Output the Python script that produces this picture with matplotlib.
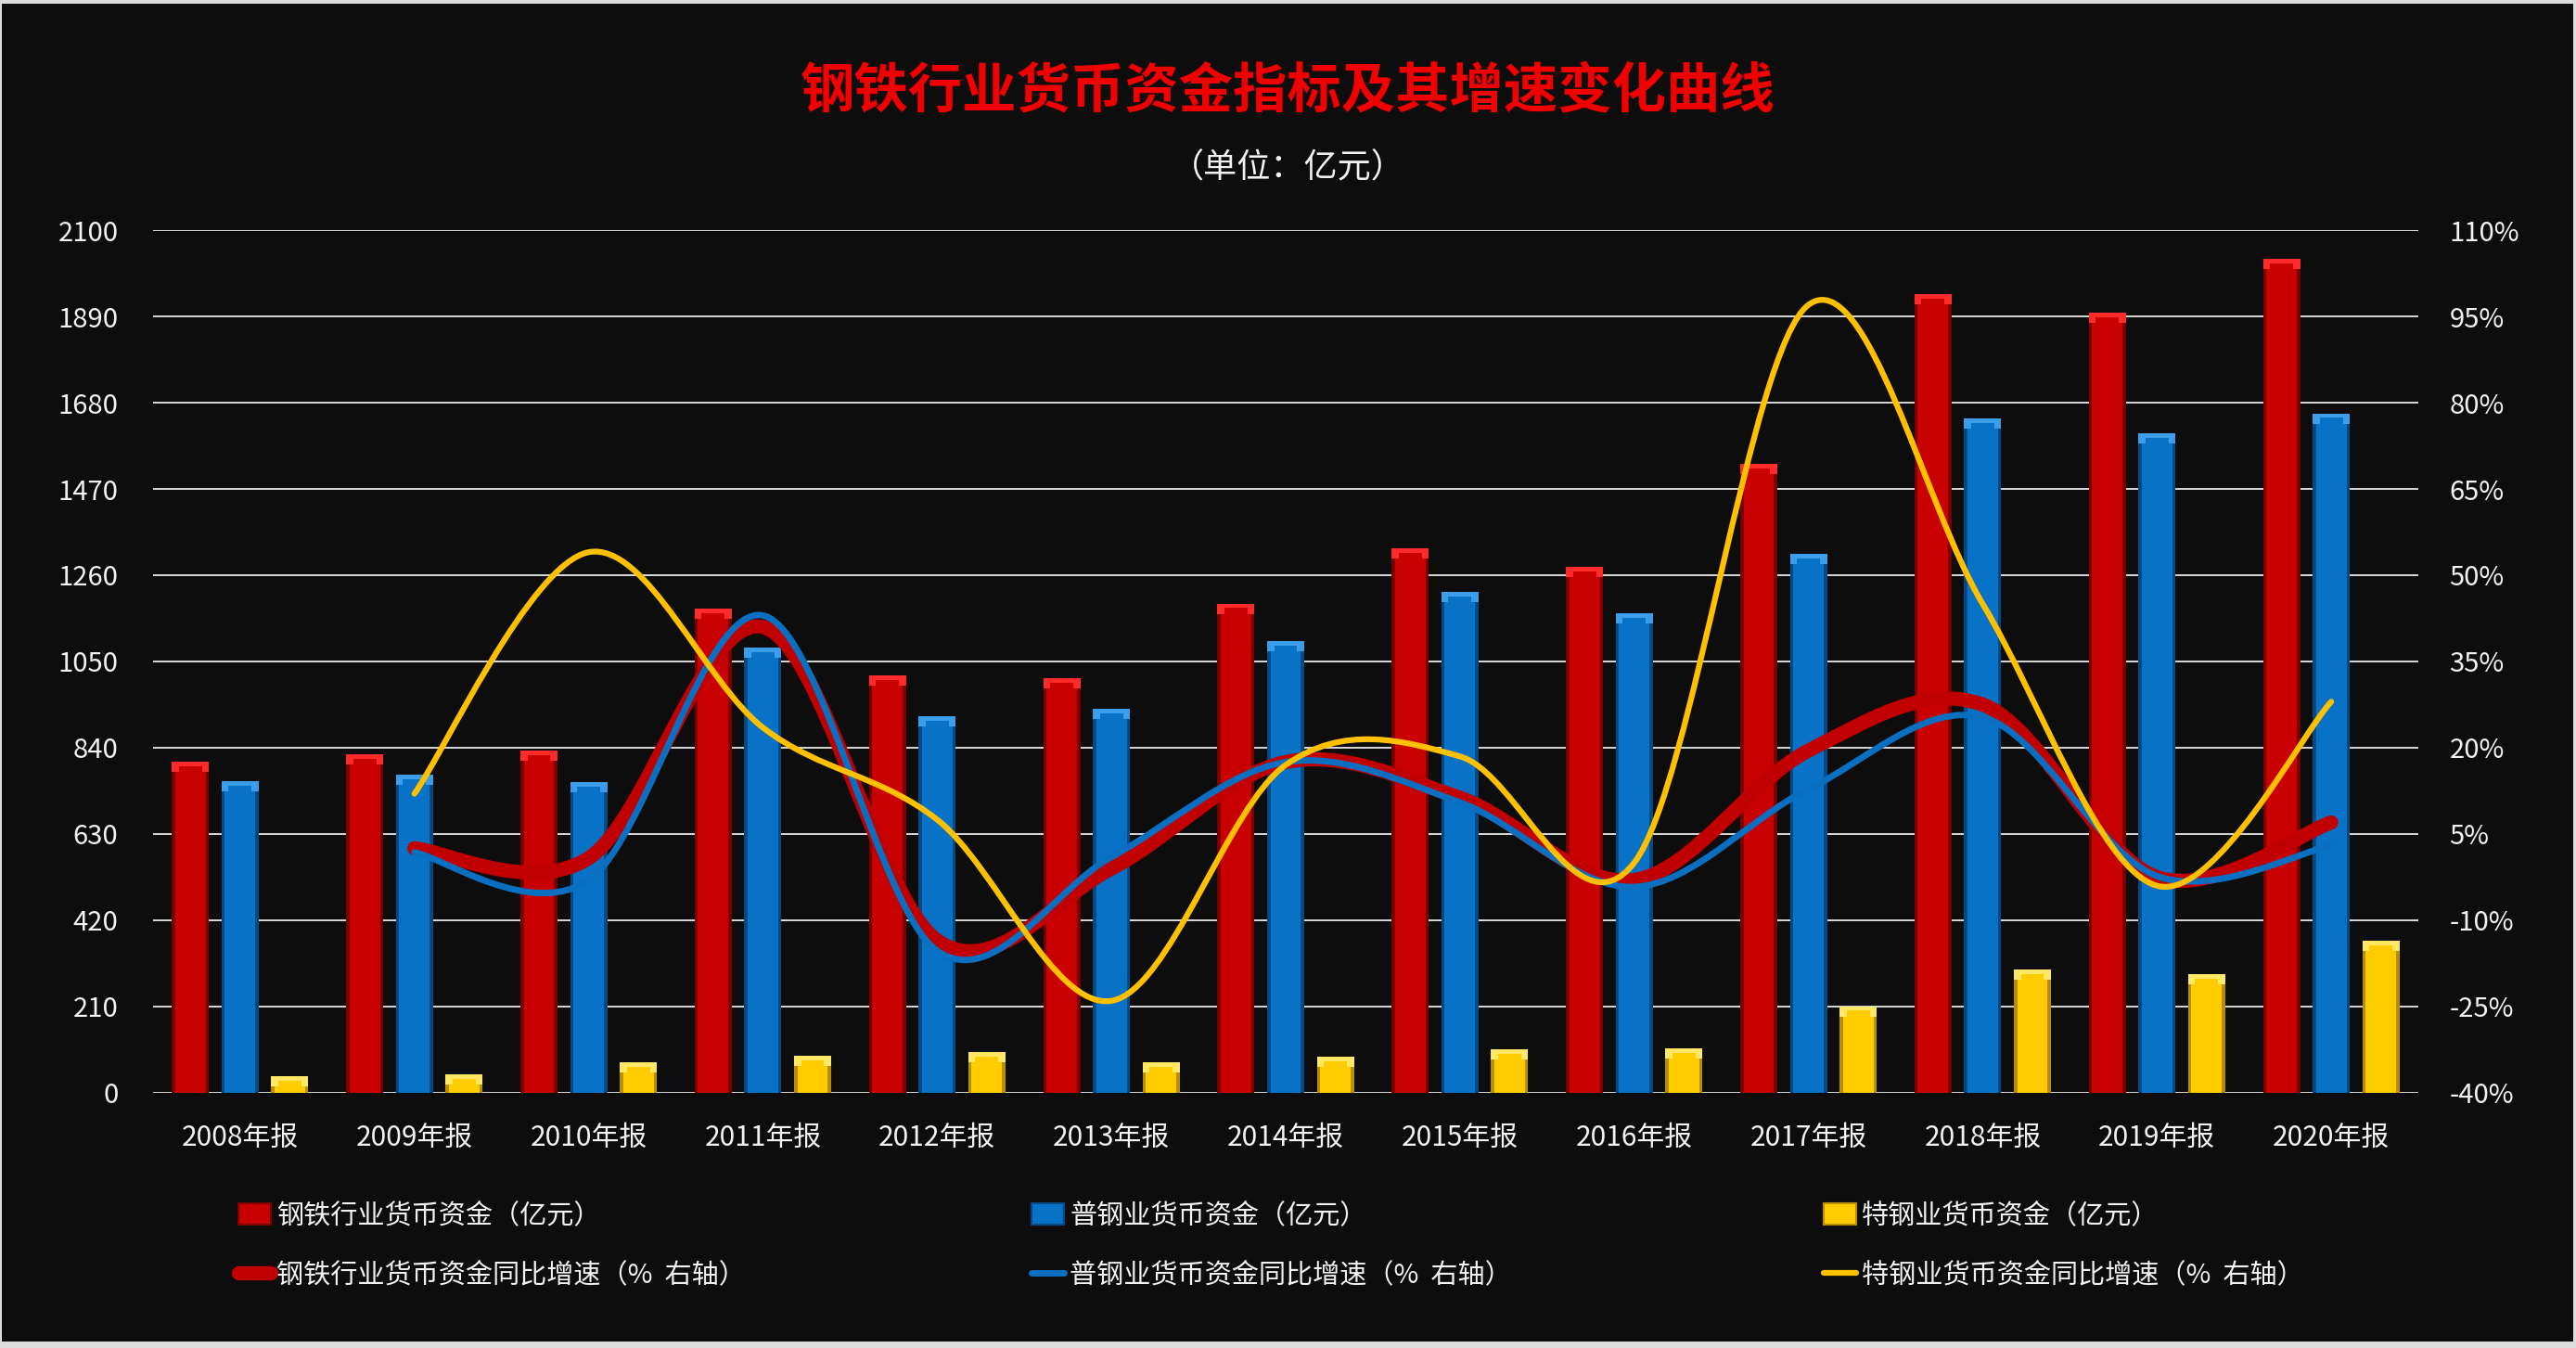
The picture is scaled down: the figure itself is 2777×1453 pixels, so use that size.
import numpy as np
import matplotlib
matplotlib.use("Agg")
import matplotlib.pyplot as plt
from matplotlib.path import Path
from matplotlib.patches import PathPatch, Patch, Rectangle
from matplotlib.lines import Line2D

plt.rcParams['font.family'] = ['Noto Sans CJK SC', 'DejaVu Sans']

# ---------------- data ----------------
categories = ["2008年报", "2009年报", "2010年报", "2011年报", "2012年报", "2013年报", "2014年报",
              "2015年报", "2016年报", "2017年报", "2018年报", "2019年报", "2020年报"]
steel_total = [805, 825, 833, 1179, 1017, 1010, 1191, 1326, 1280, 1531, 1945, 1898, 2031]
steel_common = [759, 775, 757, 1083, 917, 935, 1099, 1219, 1168, 1312, 1641, 1606, 1654]
steel_special = [41, 45, 74, 90, 99, 74, 88, 106, 108, 211, 300, 288, 370]

growth_categories = categories[1:]
growth_total = [2.5, 0.8, 41.0, -13.5, -1.0, 17.5, 11.3, -3.0, 19.5, 27.5, -2.5, 7.0]
growth_common = [1.8, -3.0, 43.0, -15.3, 1.0, 17.5, 10.5, -4.2, 12.8, 25.3, -2.3, 3.0]
growth_special = [12.0, 54.0, 23.5, 7.5, -24.0, 17.0, 18.5, 0.0, 97.0, 45.0, -4.0, 28.0]

left_ticks = [0, 210, 420, 630, 840, 1050, 1260, 1470, 1680, 1890, 2100]
right_ticks = [-40, -25, -10, 5, 20, 35, 50, 65, 80, 95, 110]

title = "钢铁行业货币资金指标及其增速变化曲线"
subtitle = "（单位：亿元）"
bar_labels = ["钢铁行业货币资金（亿元）", "普钢业货币资金（亿元）", "特钢业货币资金（亿元）"]
line_labels = ["钢铁行业货币资金同比增速（%  右轴）", "普钢业货币资金同比增速（%  右轴）",
               "特钢业货币资金同比增速（%  右轴）"]

# ---------------- style ----------------
BG = "#0D0D0D"
TXT = "#F2F2F2"
GRID = "#D9D9D9"
bar_styles = [  # main, dark edge, light top
    ("#C80000", "#7A0000", "#FF2A2A"),
    ("#0872C6", "#034A85", "#3C9EEA"),
    ("#FFCC00", "#B88F00", "#FFE866"),
]
line_styles = [("#C00000", 11.0), ("#0A6FC0", 5.0), ("#FFC000", 4.5)]

fig = plt.figure(figsize=(27.77, 14.53), dpi=100)
fig.patch.set_facecolor("#DCDCDC")
fig.add_artist(Rectangle((0.0008, 0.005), 0.9982, 0.9925, transform=fig.transFigure,
                         facecolor=BG, edgecolor="none", zorder=-10))

ax = fig.add_axes([0.0594, 0.1893, 0.8794, 0.6400])
ax.set_facecolor("none")
ax2 = ax.twinx()
ax2.set_facecolor("none")

x = np.arange(len(categories))
offsets = [-0.285, 0.0, 0.285]
bw = 0.213
cap = 2100 * 11 / 930.0  # bevel height in data units (~11 px)

for series, off, (main, dark, light) in zip([steel_total, steel_common, steel_special], offsets, bar_styles):
    vals = np.array(series, dtype=float)
    ax.bar(x + off, vals, bw, color=dark, zorder=2, linewidth=0)
    ax.bar(x + off, vals, bw * 0.82, color=main, zorder=3, linewidth=0)
    ax.bar(x + off, np.full_like(vals, cap), bw, bottom=vals - cap, color=light, zorder=4, linewidth=0)
    ax.bar(x + off, np.full_like(vals, cap * 0.55), bw * 0.62, bottom=vals - cap, color=main, zorder=5,
           linewidth=0)

ax.set_xlim(-0.5, len(categories) - 0.5)
ax.set_ylim(0, 2100)
ax.set_yticks(left_ticks)
ax.set_yticklabels([str(t) for t in left_ticks])
ax.set_xticks(x)
ax.set_xticklabels(categories)
ax.grid(axis="y", color=GRID, linewidth=1.4, zorder=0)
ax.set_axisbelow(True)
ax.tick_params(axis="y", length=0, pad=27, labelsize=21, colors=TXT)
ax.tick_params(axis="x", length=0, pad=24, labelsize=21.5, colors=TXT)
for s in ax.spines.values():
    s.set_visible(False)


def smooth_path(xs, ys):
    pts = np.column_stack([xs, ys]).astype(float)
    n = len(pts)
    verts = [pts[0]]
    codes = [Path.MOVETO]
    for i in range(n - 1):
        p0 = pts[i - 1] if i > 0 else pts[i]
        p1 = pts[i]
        p2 = pts[i + 1]
        p3 = pts[i + 2] if i + 2 < n else pts[i + 1]
        c1 = p1 + (p2 - p0) / 6.0
        c2 = p2 - (p3 - p1) / 6.0
        verts += [c1, c2, p2]
        codes += [Path.CURVE4] * 3
    return Path(np.array(verts), codes)


gx = np.arange(1, len(categories))
for series, (col, lw) in zip([growth_total, growth_common, growth_special], line_styles):
    p = smooth_path(gx, series)
    ax2.add_patch(PathPatch(p, facecolor="none", edgecolor=col, linewidth=lw,
                            capstyle="round", joinstyle="round", zorder=5))

ax2.set_ylim(-40, 110)
ax2.set_yticks(right_ticks)
ax2.set_yticklabels([f"{t}%" for t in right_ticks])
ax2.tick_params(axis="y", length=0, pad=24, labelsize=21, colors=TXT)
for s in ax2.spines.values():
    s.set_visible(False)

fig.text(0.5, 0.932, title, ha="center", va="center", fontsize=42, fontweight="bold", color="#F00000")
fig.text(0.5, 0.875, subtitle, ha="center", va="center", fontsize=26, color=TXT)

# legends: one entry each, placed in a 3x2 grid
leg_x = [0.0925, 0.4005, 0.708]
leg_y = [0.098, 0.054]
for i in range(3):
    main, dark, light = bar_styles[i]
    hb = Patch(facecolor=main, edgecolor=dark, linewidth=1.5)
    col, lw = line_styles[i]
    hl = Line2D([0], [0], color=col, linewidth=lw, solid_capstyle="round")
    for h, lab, yy in [(hb, bar_labels[i], leg_y[0]), (hl, line_labels[i], leg_y[1])]:
        lg = fig.legend([h], [lab], loc="center left", bbox_to_anchor=(leg_x[i], yy),
                        frameon=False, fontsize=21, labelcolor=TXT, borderpad=0, borderaxespad=0,
                        handlelength=1.2, handleheight=0.85, handletextpad=0.2)

fig.savefig("out.png", dpi=100, facecolor=fig.get_facecolor())
